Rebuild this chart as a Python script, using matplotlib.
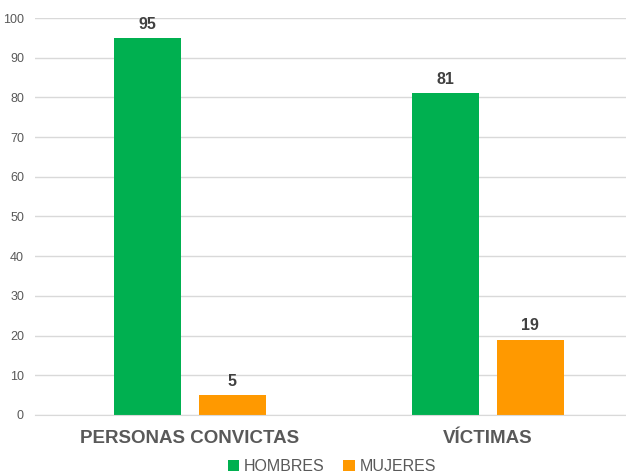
import numpy as np
import matplotlib.pyplot as plt

plt.rcParams['font.family'] = ['Liberation Sans', 'DejaVu Sans']

categories = ["PERSONAS CONVICTAS", "VÍCTIMAS"]
hombres = [95, 81]
mujeres = [5, 19]
series_names = ["HOMBRES", "MUJERES"]
colors = ["#00B050", "#FF9900"]

fig = plt.figure(figsize=(6.26, 4.74), dpi=100)
ax = fig.add_axes([0.056, 0.1245, 0.944, 0.8375])

x = np.arange(len(categories))
w = 0.225
b1 = ax.bar(x - 0.142, hombres, w, color=colors[0], label=series_names[0], zorder=2)
b2 = ax.bar(x + 0.142, mujeres, w, color=colors[1], label=series_names[1], zorder=2)

for bars in (b1, b2):
    for r in bars:
        ax.text(r.get_x() + r.get_width() / 2, r.get_height() + 1.6, f"{r.get_height():.0f}",
                ha='center', va='bottom', fontsize=11.5, fontweight='bold', color='#404040')

ax.set_ylim(0, 100)
ax.set_yticks(range(0, 101, 10))
ax.set_xlim(-0.52, 1.463)
ax.set_xticks(x)
ax.set_xticklabels(categories, fontsize=13.5, fontweight='bold', color='#595959')
ax.tick_params(axis='y', labelsize=9, colors='#595959', length=0, pad=8)
ax.tick_params(axis='x', length=0, pad=11)
ax.grid(axis='y', color='#D9D9D9', linewidth=1, zorder=0)
for s in ['top', 'right', 'left']:
    ax.spines[s].set_visible(False)
ax.spines['bottom'].set_color('#D9D9D9')

fig.legend(loc='lower center', bbox_to_anchor=(0.53, -0.03), ncol=2, frameon=False,
           fontsize=11.5, handlelength=0.7, handleheight=0.7, handletextpad=0.3,
           columnspacing=1.2, labelcolor='#595959')

plt.savefig("out.png", dpi=100)
